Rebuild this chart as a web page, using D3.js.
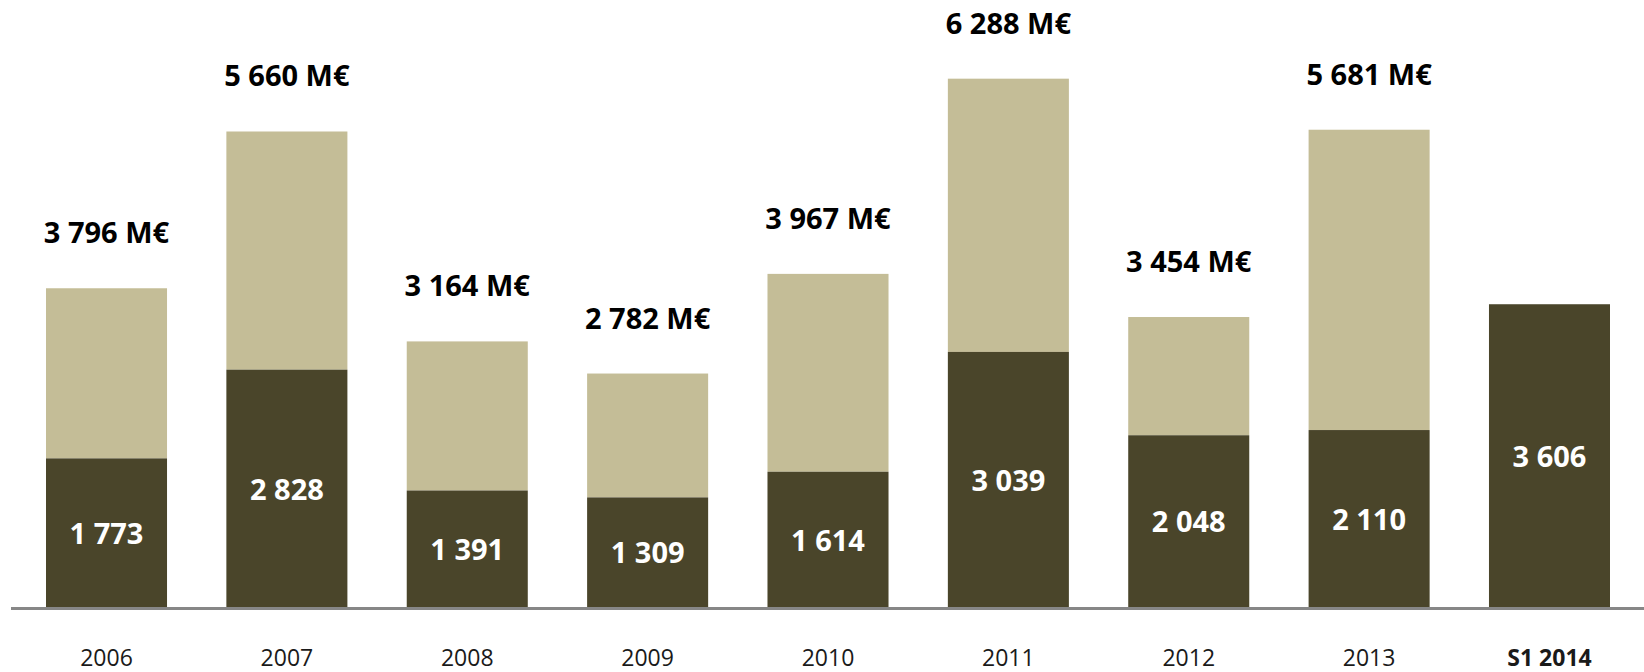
<!DOCTYPE html>
<html>
<head>
<meta charset="utf-8">
<script src="https://cdn.jsdelivr.net/npm/d3@7"></script>
<style>
  body { margin: 0; background: #fff; }
  svg { display: block; }
  text { font-family: "Open Sans", sans-serif; }
</style>
</head>
<body>
<svg id="chart"></svg>
<script>
var svgWidth = 1644;
var svgHeight = 672;

// data
var categories = ["2006", "2007", "2008", "2009", "2010", "2011", "2012", "2013", "S1 2014"];
var totals = [3796, 5660, 3164, 2782, 3967, 6288, 3454, 5681, null];
var darkValues = [1773, 2828, 1391, 1309, 1614, 3039, 2048, 2110, 3606];

var fmt = function(v){
  return d3.format(",")(v).replace(/,/g, " ");
};

var svg = d3.select("#chart")
  .attr("width", svgWidth)
  .attr("height", svgHeight);

var baseY = 607.5;

var x = d3.scaleBand()
  .domain(categories)
  .range([46, 1610])
  .paddingInner(0.329)
  .paddingOuter(0);

var y = d3.scaleLinear()
  .domain([0, 7000])
  .range([baseY, baseY - 7000 * 0.0841]);

var rows = categories.map(function(c, i){
  return { cat: c, total: totals[i], dark: darkValues[i] };
});

// light part (total - dark)
svg.selectAll("rect.light")
  .data(rows.filter(function(d){ return d.total != null; }))
  .enter()
  .append("rect")
  .attr("class", "light")
  .attr("x", function(d){ return x(d.cat); })
  .attr("width", x.bandwidth())
  .attr("y", function(d){ return y(d.total); })
  .attr("height", function(d){ return y(d.dark) - y(d.total); })
  .attr("fill", "#c4bd97");

// dark part
svg.selectAll("rect.dark")
  .data(rows)
  .enter()
  .append("rect")
  .attr("class", "dark")
  .attr("x", function(d){ return x(d.cat); })
  .attr("width", x.bandwidth())
  .attr("y", function(d){ return y(d.dark); })
  .attr("height", function(d){ return y(0) - y(d.dark); })
  .attr("fill", "#4a452a");

// axis line
var xAxis = d3.axisBottom(x).tickSize(0).tickPadding(0).tickFormat("");
svg.append("g")
  .attr("transform", "translate(0," + (baseY + 1) + ")")
  .call(xAxis)
  .call(function(g){
    g.select(".domain")
      .attr("d", "M11,0H1644")
      .attr("stroke", "#878787")
      .attr("stroke-width", 3);
  });

// category labels
svg.selectAll("text.cat")
  .data(rows)
  .enter()
  .append("text")
  .attr("class", "cat")
  .attr("x", function(d){ return x(d.cat) + x.bandwidth() / 2; })
  .attr("y", 666)
  .attr("text-anchor", "middle")
  .attr("font-size", 23)
  .attr("font-weight", function(d, i){ return i == categories.length - 1 ? "bold" : "normal"; })
  .attr("fill", "#1a1a1a")
  .text(function(d){ return d.cat; });

// totals above bars
svg.selectAll("text.total")
  .data(rows.filter(function(d){ return d.total != null; }))
  .enter()
  .append("text")
  .attr("class", "total")
  .attr("x", function(d){ return x(d.cat) + x.bandwidth() / 2; })
  .attr("y", function(d){ return y(d.total) - 45; })
  .attr("text-anchor", "middle")
  .attr("font-size", 29)
  .attr("font-weight", "bold")
  .attr("fill", "#000")
  .text(function(d){ return fmt(d.total) + " M€"; });

// values inside dark part
svg.selectAll("text.inner")
  .data(rows)
  .enter()
  .append("text")
  .attr("class", "inner")
  .attr("x", function(d){ return x(d.cat) + x.bandwidth() / 2; })
  .attr("y", function(d){ return (y(d.dark) + y(0)) / 2 + 11; })
  .attr("text-anchor", "middle")
  .attr("font-size", 29)
  .attr("font-weight", "bold")
  .attr("fill", "#fff")
  .text(function(d){ return fmt(d.dark); });
</script>
</body>
</html>
